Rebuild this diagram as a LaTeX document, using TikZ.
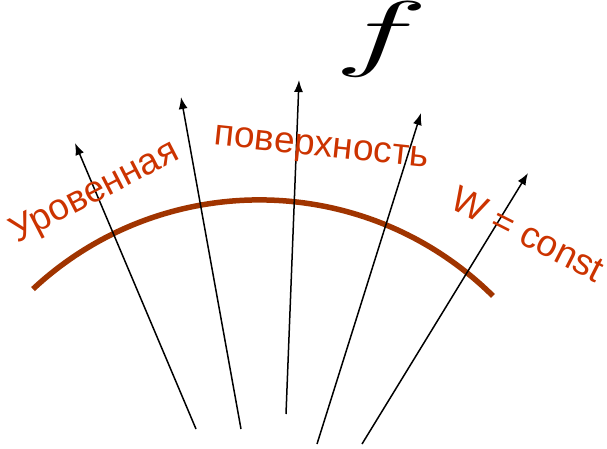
\documentclass[tikz,border=0pt]{standalone}
\usepackage{amsmath,amssymb}
\usepackage{fontspec}
\setmainfont{Liberation Sans}
\usepackage{xcolor}
\usepackage{tikz}
\usetikzlibrary{arrows.meta}
\definecolor{lvlbrown}{RGB}{160,52,0}
\definecolor{lvlred}{RGB}{204,51,0}

\begin{document}
\begin{tikzpicture}[
  x=1pt, y=1pt,
  lbl/.style={text=lvlred, inner sep=0pt, font=\fontsize{37}{37}\selectfont},
  grad/.style={-{Latex[length=12pt,width=9pt]}, line width=1.5pt}
]
\useasboundingbox (0,0) rectangle (607,448);
% level surface
\draw[lvlbrown, line width=5.5pt] (259.4,-83.9) ++(133:332) arc[start angle=133, end angle=45.3, radius=332];
% gradient lines
\coordinate (b1) at (196,19);  \coordinate (t1) at (75,305);
\coordinate (b2) at (241,19);  \coordinate (t2) at (181,351);
\coordinate (b3) at (286,34);  \coordinate (t3) at (299,368);
\coordinate (b4) at (317,4);   \coordinate (t4) at (421,335);
\coordinate (b5) at (362,4);   \coordinate (t5) at (528,275);
\foreach \i in {1,...,5} \draw[grad] (b\i) -- (t\i);
% labels
\node[lbl, rotate=27.3] (lw1) at (95,255) {Уровенная};
\node[lbl, rotate=-6] (lw2) at (321,298) {поверхность};
\node[lbl, rotate=-27] (lw3) at (528,214) {W = const};
\node[inner sep=0pt, font=\Huge, xscale=6.4, yscale=3.4] (fv) at (381,409) {$f$};
\end{tikzpicture}
\end{document}
